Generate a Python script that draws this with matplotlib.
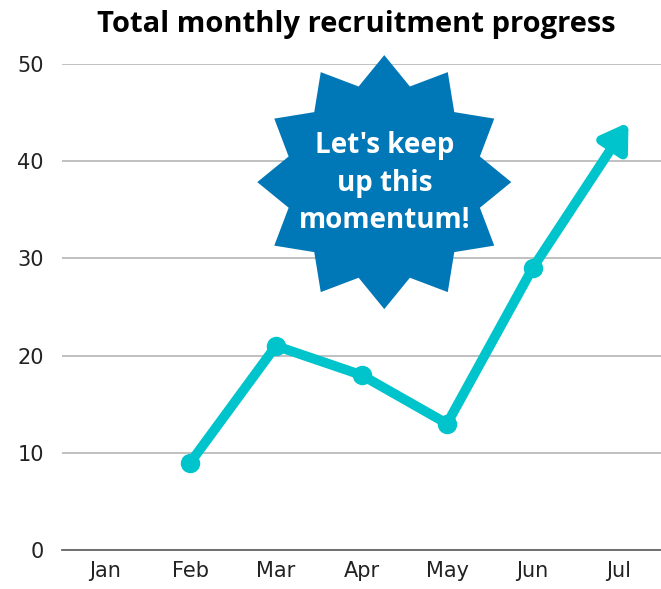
import numpy as np
import matplotlib.pyplot as plt
from matplotlib.patches import Polygon
from matplotlib.transforms import ScaledTranslation

months = ['Jan', 'Feb', 'Mar', 'Apr', 'May', 'Jun', 'Jul']
recruits = [None, 9, 21, 18, 13, 29]   # Jan has no data
jul_target = 44                         # arrow end
yticks = [0, 10, 20, 30, 40, 50]

line_col = '#00C4CC'
star_col = '#0077B6'

fig = plt.figure(figsize=(6.61, 5.89), dpi=100)
ax = fig.add_axes([0.0938, 0.0662, 0.9062, 0.8251])

x = [i for i, v in enumerate(recruits) if v is not None]
y = [v for v in recruits if v is not None]
ax.plot(x, y, color=line_col, lw=7, marker='o', ms=13,
        solid_capstyle='round', solid_joinstyle='round', zorder=3)
# arrow from Jun to Jul
ax.annotate('', xy=(6.12, jul_target), xytext=(5, recruits[5]),
            arrowprops=dict(arrowstyle='-|>,head_length=1.5,head_width=0.95',
                            color=line_col, lw=7, shrinkA=0, shrinkB=0,
                            joinstyle='round', capstyle='round'),
            zorder=3, annotation_clip=False)

ax.set_xlim(-0.5, 6.5)
ax.set_ylim(0, 50)
ax.set_xticks(range(len(months)))
ax.set_xticklabels(months)
ax.set_yticks(yticks)
ax.tick_params(length=0, labelsize=15, colors='#222222', pad=8)
ax.tick_params(axis='y', pad=13)
ax.grid(axis='y', color='#BBBBBB', lw=1.3)
ax.set_axisbelow(True)
for s in ['top', 'right', 'left']:
    ax.spines[s].set_visible(False)
ax.spines['bottom'].set_color('#666666')
ax.spines['bottom'].set_linewidth(1.3)

fig.text(0.539, 0.958, 'Total monthly recruitment progress', ha='center', va='center',
         fontsize=21, fontweight='bold', family='Open Sans')

# starburst callout (12 points), sized in inches around an axes-fraction centre
n = 12
ang = np.pi / 2 + np.arange(2 * n) * np.pi / n
rad = np.where(np.arange(2 * n) % 2 == 0, 1.27, 0.99)
verts = np.column_stack([rad * np.cos(ang), rad * np.sin(ang)])
tr = fig.dpi_scale_trans + ScaledTranslation(0.538, 0.757, ax.transAxes)
ax.add_patch(Polygon(verts, closed=True, facecolor=star_col, edgecolor='none',
                     transform=tr, clip_on=False, zorder=4))
ax.text(0.538, 0.755, "Let's keep\nup this\nmomentum!", transform=ax.transAxes,
        ha='center', va='center', color='white', fontsize=20, fontweight='bold',
        family='Open Sans', linespacing=1.38, zorder=5)

fig.savefig('out.png', dpi=100)
